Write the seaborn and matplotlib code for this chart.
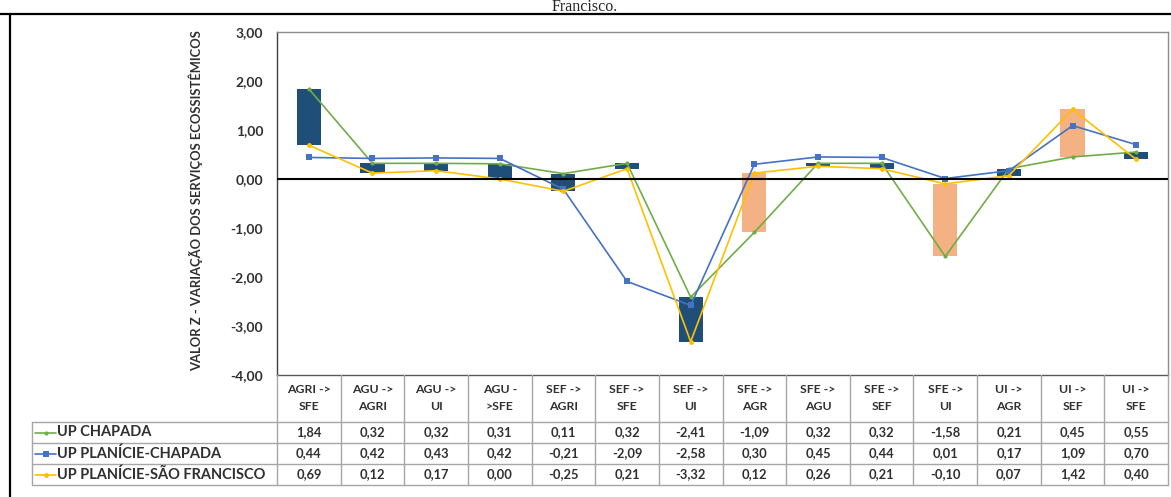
import numpy as np
import pandas as pd
import seaborn as sns
import matplotlib.pyplot as plt
from matplotlib.lines import Line2D
from matplotlib.ticker import FuncFormatter

# ---- data ----
categories = ["AGRI ->\nSFE", "AGU ->\nAGRI", "AGU ->\nUI", "AGU -\n>SFE",
              "SEF ->\nAGRI", "SEF ->\nSFE", "SEF ->\nUI", "SFE ->\nAGR",
              "SFE ->\nAGU", "SFE ->\nSEF", "SFE ->\nUI", "UI ->\nAGR",
              "UI ->\nSEF", "UI ->\nSFE"]
up_chapada = [1.84, 0.32, 0.32, 0.31, 0.11, 0.32, -2.41, -1.09, 0.32, 0.32, -1.58, 0.21, 0.45, 0.55]
up_planicie_chapada = [0.44, 0.42, 0.43, 0.42, -0.21, -2.09, -2.58, 0.30, 0.45, 0.44, 0.01, 0.17, 1.09, 0.70]
up_planicie_sf = [0.69, 0.12, 0.17, 0.00, -0.25, 0.21, -3.32, 0.12, 0.26, 0.21, -0.10, 0.07, 1.42, 0.40]
series_names = ["UP CHAPADA", "UP PLANÍCIE-CHAPADA", "UP PLANÍCIE-SÃO FRANCISCO"]
y_label = "VALOR Z - VARIAÇÃO DOS SERVIÇOS ECOSSISTÊMICOS"

colors = {"UP CHAPADA": "#70AD47",
          "UP PLANÍCIE-CHAPADA": "#4472C4",
          "UP PLANÍCIE-SÃO FRANCISCO": "#FFC000"}
markers = {"UP CHAPADA": "o", "UP PLANÍCIE-CHAPADA": "s", "UP PLANÍCIE-SÃO FRANCISCO": "o"}
msizes = {"UP CHAPADA": 3, "UP PLANÍCIE-CHAPADA": 5, "UP PLANÍCIE-SÃO FRANCISCO": 3.5}

sns.set_style("white")
plt.rcParams['font.family'] = ['Lato', 'DejaVu Sans']
txt_color = "#303030"

series_vals = [up_chapada, up_planicie_chapada, up_planicie_sf]
x = np.arange(len(categories))
df = pd.concat([pd.DataFrame({"x": x, "valor": v, "serie": n})
                for n, v in zip(series_names, series_vals)], ignore_index=True)

W, H = 1171, 497
fig = plt.figure(figsize=(W / 100, H / 100), dpi=100)


def px_box(l, t, r, b):
    return [l / W, 1 - b / H, (r - l) / W, (b - t) / H]


ax = fig.add_axes(px_box(277, 32, 1168, 375))

# up/down bars between first and last series
first = np.array(up_chapada)
last = np.array(up_planicie_sf)
low = np.minimum(first, last)
bar_colors = np.where(last > first, "#F4B183", "#1F4E79")
ax.bar(x, np.abs(last - first), bottom=low, width=0.38, color=bar_colors,
       edgecolor="none", zorder=1)

# lines
sns.lineplot(data=df, x="x", y="valor", hue="serie", style="serie",
             palette=colors, markers=markers, dashes=False, linewidth=1.2,
             legend=False, ax=ax, zorder=2)
for line, n in zip(ax.lines, series_names):
    line.set_markersize(msizes[n])
    line.set_markeredgewidth(0)

ax.axhline(0, color="black", linewidth=1.5, zorder=3)
ax.set_xlim(-0.5, len(categories) - 0.5)
ax.set_ylim(-4, 3)
ax.set_yticks(np.arange(-4, 4, 1))
ax.yaxis.set_major_formatter(FuncFormatter(lambda v, p: f"{v:.2f}".replace(".", ",")))
ax.tick_params(axis="y", length=0, pad=10, labelsize=10)
for t in ax.get_yticklabels():
    t.set_fontweight("bold")
    t.set_color(txt_color)
ax.set_xticks([])
ax.set_xlabel("")
ax.set_ylabel(y_label, fontsize=9.4, fontweight="bold", color=txt_color)
ax.yaxis.set_label_coords((203 - 277) / 891, 0.51)
ax.spines["left"].set_color("#404040")
ax.spines["bottom"].set_color("#595959")
for s in ["top", "right"]:
    ax.spines[s].set_color("#8C8C8C")
for s in ax.spines.values():
    s.set_linewidth(1.0)

# ---- data table below the plot ----
cw = 891 / len(categories)
x0 = -0.5 - 245 / cw
tax = fig.add_axes(px_box(32, 375, 1168, 485))
tax.set_xlim(x0, len(categories) - 0.5)
tax.set_ylim(110, 0)
tax.axis("off")
grid = "#A6A6A6"
rows_y = [47, 68, 89, 110]
for k in range(len(categories) + 1):
    tax.plot([k - 0.5, k - 0.5], [0, 110], color=grid, lw=1, clip_on=False)
tax.plot([x0, x0], [47, 110], color=grid, lw=1, clip_on=False)
for yy in rows_y:
    tax.plot([x0, len(categories) - 0.5], [yy, yy], color=grid, lw=1, clip_on=False)

for i, c in enumerate(categories):
    tax.text(i, 23, c, ha="center", va="center", fontsize=8.8,
             fontweight="bold", color=txt_color, linespacing=1.7)

for r, (n, vals) in enumerate(zip(series_names, series_vals)):
    yc = 47 + 21 * r + 10.5
    tax.add_line(Line2D([x0 + 3 / cw, x0 + 24 / cw], [yc, yc], color=colors[n], lw=1.2))
    tax.plot([x0 + 13.5 / cw], [yc], marker=markers[n], color=colors[n],
             markersize=msizes[n], markeredgewidth=0)
    tax.text(x0 + 25 / cw, yc, n, ha="left", va="center", fontsize=10.5,
             fontweight="bold", color=txt_color)
    for i, v in enumerate(vals):
        tax.text(i, yc, f"{v:.2f}".replace(".", ","), ha="center", va="center",
                 fontsize=9.3, fontweight="bold", color=txt_color)

# ---- page elements around the chart ----
fig.add_artist(Line2D([0, 1], [1 - 14 / H, 1 - 14 / H], color="black", lw=1.6))
fig.add_artist(Line2D([10 / W, 10 / W], [0, 1 - 14 / H], color="black", lw=1.6))
fig.text(585 / W, 1 - 11 / H, "Francisco.", ha="center", va="baseline",
         fontsize=11.5, family="Liberation Serif")

fig.savefig("out.png", dpi=100)
